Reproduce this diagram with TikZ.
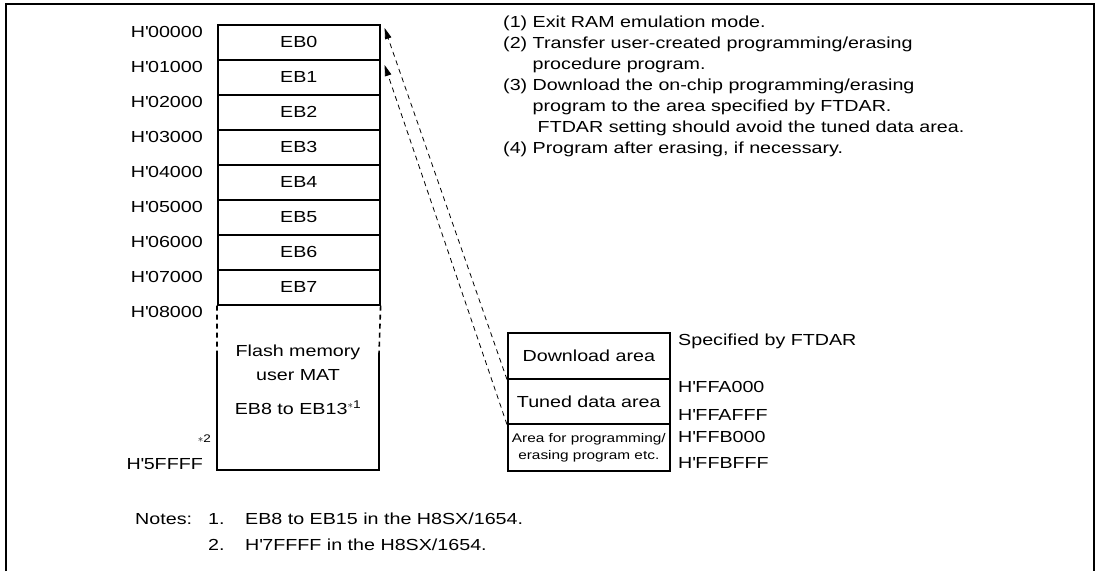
\documentclass[tikz,border=0pt]{standalone}
\usepackage{fontspec}
\setmainfont{Liberation Sans}[FakeStretch=1.23]
\usepackage{tikz}
\usetikzlibrary{arrows.meta}

\newcommand{\hq}{H\textquotesingle}
\newcommand{\ind}{\hphantom{(0) }}

\begin{document}
\begin{tikzpicture}[x=1pt, y=-1pt, every node/.style={font=\fontsize{16}{21}\selectfont, inner sep=0pt}, >={Triangle[length=11pt, width=6.5pt]},
	blk/.style={draw, line width=1.6pt, minimum width=162pt, anchor=north west},
	addr/.style={anchor=base east},
	side/.style={anchor=base west},
	jump/.style={->, line width=0.8pt, dash pattern=on 5pt off 4pt}]
	\useasboundingbox (0,0) rectangle (1102,571);
	% frame, open at the bottom
	\draw[line width=2pt] (6,571) -- (6,4) -- (1094,4) -- (1094,571);
	% erase blocks EB0 to EB7
	\foreach \i in {0,...,7}
		\node[blk, minimum height=35pt] (eb\i) at (217,24+35*\i) {EB\i};
	\foreach \i in {0,...,8}
		\node[addr] (a\i) at (203,37+35*\i) {\hq0\i000};
	% rest of the user MAT
	\coordinate (fl) at (217,354);
	\coordinate (fr) at (379,354);
	\draw[line width=1.6pt, dash pattern=on 5pt off 4pt] (eb7.south west) -- (fl) (eb7.south east) -- (fr);
	\draw[line width=1.6pt] (fl) -- (217,470) coordinate (bl) -- (379,470) coordinate (br) -- (fr);
	\node[align=center, font=\fontsize{16}{24}\selectfont] (flash) at (298,363) {Flash memory\\user MAT};
	\node (ebrest) at (298,408) {EB8 to EB13\textsuperscript{$\ast$1}};
	\node[addr, font=\fontsize{11}{11}\selectfont] (n2mark) at (211,442) {$\ast$2};
	\node[addr] (aend) at (203,469) {\hq5FFFF};
	% RAM side
	\node[blk, minimum height=46pt] (dl) at (507,332) {Download area};
	\node[blk, minimum height=45pt] (td) at (507,378) {Tuned data area};
	\node[blk, minimum height=47pt, align=center, font=\fontsize{12.5}{17}\selectfont] (pa) at (507,423) {Area for programming/\\erasing program etc.};
	\node[side] (ftdar) at (678,345.5) {Specified by FTDAR};
	\node[side] (r1) at (678,392.5) {\hq FFA000};
	\node[side] (r2) at (678,420.5) {\hq FFAFFF};
	\node[side] (r3) at (678,442.5) {\hq FFB000};
	\node[side] (r4) at (678,468.5) {\hq FFBFFF};
	\draw[jump] (dl.south west) -- ([xshift=4pt, yshift=-4pt]eb0.north east);
	\draw[jump] (td.south west) -- ([xshift=4pt, yshift=-6pt]eb1.north east);
	% procedure
	\node[anchor=north west, align=left] (steps) at (503,16) {(1) Exit RAM emulation mode.\\
		(2) Transfer user-created programming/erasing\\
		\ind procedure program.\\
		(3) Download the on-chip programming/erasing\\
		\ind program to the area specified by FTDAR.\\
		\ind\hspace*{5pt}FTDAR setting should avoid the tuned data area.\\
		(4) Program after erasing, if necessary.};
	% notes
	\node[side] (notes) at (135,524) {Notes:};
	\node[side] (nt1) at (208,524) {1.};
	\node[side] (nt1x) at (245,524) {EB8 to EB15 in the H8SX/1654.};
	\node[side] (nt2) at (208,550) {2.};
	\node[side] (nt2x) at (245,550) {\hq7FFFF in the H8SX/1654.};
\end{tikzpicture}
\end{document}
